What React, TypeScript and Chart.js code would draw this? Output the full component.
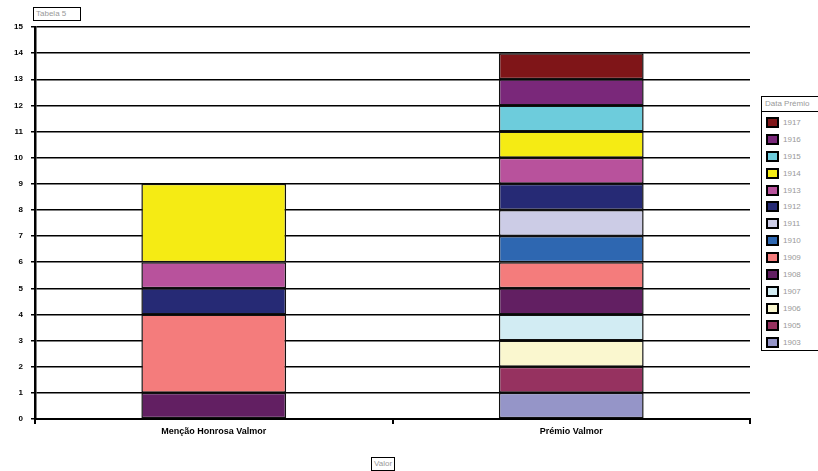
import React, { useEffect, useRef } from "react";
import { Chart, registerables } from "chart.js";

Chart.register(...registerables);

const categories = ["Menção Honrosa Valmor", "Prémio Valmor"];
const years = ["1903", "1905", "1906", "1907", "1908", "1909", "1910", "1911", "1912", "1913", "1914", "1915", "1916", "1917"];
const mencaoValues = [null, null, null, null, 1, 3, null, null, 1, 1, 3, null, null, null];
const premioValues = [1, 1, 1, 1, 1, 1, 1, 1, 1, 1, 1, 1, 1, 1];
const yearColors = ["#9595C8", "#963260", "#FAF7CF", "#D2ECF3", "#621F62", "#F47C7C", "#2E67B1", "#CCCCE6", "#262A75", "#B8529C", "#F5EB14", "#6DCCDC", "#7A287A", "#7F1518"];
const yTicks = [0, 1, 2, 3, 4, 5, 6, 7, 8, 9, 10, 11, 12, 13, 14, 15];
const dataTitle = "Tabela 5";
const legendTitle = "Data Prémio";
const axisTitle = "Valor";

export default function App() {
  const ref = useRef<HTMLCanvasElement>(null);
  useEffect(() => {
    const chart = new Chart(ref.current!, {
      type: "bar",
      data: {
        labels: categories,
        datasets: years.map((y, i) => ({
          label: y,
          data: [mencaoValues[i], premioValues[i]],
          backgroundColor: yearColors[i],
          borderColor: "#111",
          borderWidth: 1.5,
          borderSkipped: false,
          barPercentage: 0.81,
          categoryPercentage: 0.5,
        })),
      },
      options: {
        responsive: false,
        animation: false,
        layout: { padding: { left: 0, right: 68, top: 27, bottom: 0 } },
        plugins: { legend: { display: false }, tooltip: { enabled: false } },
        scales: {
          x: {
            stacked: true,
            afterFit: (s: any) => { s.height = 52; },
            border: { color: "#000", width: 2 },
            grid: { offset: true, drawOnChartArea: false, drawTicks: true, tickLength: 5, color: "#000", lineWidth: 2 },
            ticks: { color: "#000", font: { family: "Liberation Sans", size: 9, weight: "bold" }, padding: 2 },
          },
          y: {
            stacked: true,
            min: 0,
            max: 15,
            afterFit: (s: any) => { s.width = 35; },
            afterBuildTicks: (s: any) => { s.ticks = yTicks.map((v) => ({ value: v })); },
            border: { color: "#000", width: 2.5 },
            grid: { color: "#000", lineWidth: 1.5, tickLength: 4, drawTicks: true },
            ticks: { color: "#000", font: { family: "Liberation Sans", size: 8, weight: "bold" }, padding: 8 },
          },
        },
      },
    });
    return () => chart.destroy();
  }, []);

  const box: React.CSSProperties = {
    position: "absolute",
    border: "1.5px solid #000",
    background: "#fff",
    color: "#999",
    fontFamily: "Liberation Sans, sans-serif",
    fontSize: 8,
    lineHeight: "10px",
    padding: "1px 2px",
    whiteSpace: "nowrap",
  };

  return (
    <div style={{ position: "fixed", left: 0, top: 0, width: 818, height: 471, background: "#fff", overflow: "hidden" }}>
      <canvas ref={ref} width={818} height={471} style={{ position: "absolute", left: 0, top: 0 }} />
      <div style={{ ...box, left: 33, top: 7, width: 42 }}>{dataTitle}</div>
      <div style={{ ...box, left: 371, top: 457 }}>{axisTitle}</div>
      <div style={{ position: "absolute", left: 761, top: 96, width: 70, height: 253, border: "1.5px solid #000", background: "#fff", fontFamily: "Liberation Sans, sans-serif", fontSize: 8, color: "#999" }}>
        <div style={{ height: 14, lineHeight: "14px", paddingLeft: 3, borderBottom: "1.5px solid #000", whiteSpace: "nowrap" }}>{legendTitle}</div>
        <div style={{ paddingTop: 2 }}>
          {years.slice().reverse().map((y, k) => {
            const i = years.length - 1 - k;
            return (
              <div key={y} style={{ height: 16.9, display: "flex", alignItems: "center" }}>
                <span style={{ display: "inline-block", width: 9, height: 7, marginLeft: 4, marginRight: 4, background: yearColors[i], border: "2px solid #000" }} />
                <span>{y}</span>
              </div>
            );
          })}
        </div>
      </div>
    </div>
  );
}
